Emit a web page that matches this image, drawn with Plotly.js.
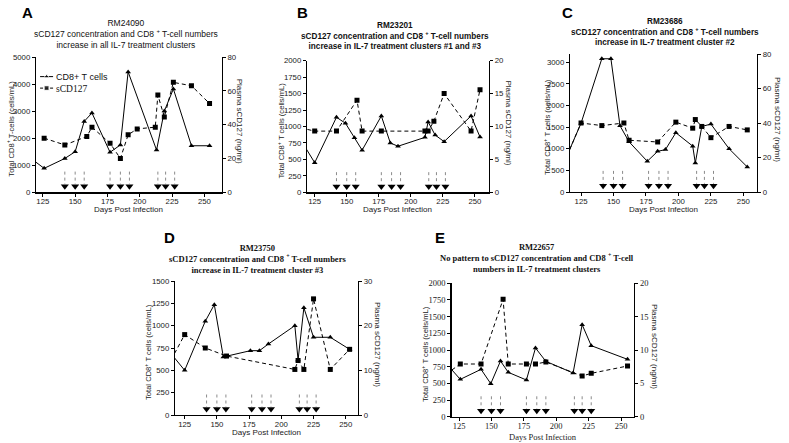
<!DOCTYPE html>
<html><head><meta charset="utf-8">
<script src="https://cdn.plot.ly/plotly-3.0.1.min.js"></script>
<style>html,body{margin:0;padding:0;background:#fff}#chart{width:789px;height:443px}</style>
</head><body><div id="chart"></div>
<script>
// ---------------- DATA ----------------
const xTickVals = [125, 150, 175, 200, 225, 250];
const arrowDays = [142, 150, 157, 177, 185, 192, 214, 220, 227];

// Panel A – RM24090
const aCD8Days = [115, 126, 142, 150, 157, 163, 177, 185, 191, 213, 219, 226, 240, 254];
const aCD8 = [1280, 885, 1250, 1500, 2620, 2930, 1480, 1750, 4450, 1560, 3000, 3820, 1720, 1720];
const aSDays = [126, 142, 159, 163, 177, 185, 191, 198, 212, 214, 219, 226, 240, 254];
const aS = [32, 28, 33, 38.5, 29, 20, 34, 37.5, 38.5, 57.5, 44.5, 65, 63, 52.5];

// Panel B – RM23201
const bCD8Days = [114, 125, 142, 149, 156, 162, 177, 184, 190, 211, 213.5, 219, 226, 247, 254];
const bCD8 = [800, 450, 1140, 1050, 830, 640, 1160, 750, 700, 835, 1070, 870, 770, 1160, 840];
const bSDays = [114, 125, 142, 158, 162, 177, 211, 213.5, 218, 226, 247, 254];
const bS = [9.8, 9.3, 9.3, 14, 9.3, 9.3, 9.3, 9.3, 10.8, 15, 9.3, 15.6];

// Panel C – RM23686
const cCD8Days = [112, 125, 141, 148, 155, 162, 176, 184, 190, 198, 211, 213, 218, 225, 239, 253];
const cCD8 = [690, 1590, 3080, 3080, 1530, 1160, 710, 940, 980, 1370, 1060, 670, 1515, 1570, 1000, 580];
const cSDays = [112, 125, 141, 158, 162, 184, 198, 211, 213, 218, 225, 239, 253];
const cS = [17, 40, 38.5, 40, 30, 29, 40.5, 37, 42, 38, 31.5, 38, 36];

// Panel D – RM23750
const dCD8Days = [112, 125, 141, 148, 155, 176, 183, 190, 210.5, 213, 217.5, 225, 238, 253];
const dCD8 = [730, 500, 1050, 1235, 650, 720, 720, 795, 1000, 615, 1200, 870, 870, 735];
const dSDays = [112, 125, 141, 157.5, 210.5, 213, 217.5, 225, 238, 253];
const dS = [11, 18, 15, 13.2, 10.2, 12.2, 10.2, 26, 10.2, 14.7];

// Panel E – RM22657
const eCD8Days = [115, 126, 142, 149.5, 157, 163, 177, 184, 192, 213, 220, 227, 255];
const eCD8 = [800, 560, 710, 495, 835, 665, 550, 1030, 830, 655, 1380, 1065, 860];
const eSDays = [115, 126, 142, 159, 163, 177, 184, 192, 220, 227, 255];
const eS = [6.4, 7.9, 7.9, 17.6, 7.9, 7.9, 7.9, 8.2, 6.1, 6.5, 7.6];

const seriesNames = ['CD8+ T cells', 'sCD127'];

// ---------------- LAYOUT / STYLE ----------------
const W = 789, H = 443;
const px = x => x / W, py = y => 1 - y / H;
const SANS = 'Liberation Sans, Arial, sans-serif';
const SERIF = 'Liberation Serif, Times New Roman, serif';

const panels = [
  {letter:'A', lx:27, ly:12, cd8x:aCD8Days, cd8:aCD8, sx:aSDays, s:aS,
   box:[36,221.7,57,192.3], xr:[119.7,263.4], yl:[0,5000], yld:1000, yr:[0,80], yrd:20,
   tickFont:SANS, titleFont:SANS, titleBold:false, titleSize:8.5, xtFont:SANS,
   title:['RM24090','sCD127 concentration and CD8 <sup>+</sup> T-cell numbers','increase in all IL-7 treatment clusters'],
   tx:126, ty:34, ytitle:'Total CD8<sup>+</sup> T-cells (cells/mL)', ytx:10, yrtx:239, xty:209.5},
  {letter:'B', lx:302, ly:12, cd8x:bCD8Days, cd8:bCD8, sx:bSDays, s:bS,
   box:[307,489,60.7,192.3], xr:[119,261], yl:[0,2000], yld:250, yr:[0,20], yrd:5,
   tickFont:SANS, titleFont:SANS, titleBold:true, titleSize:8.2, xtFont:SANS,
   title:['RM23201','sCD127 concentration and CD8 <sup>+</sup> T-cell numbers','increase in IL-7 treatment clusters #1 and #3'],
   tx:395, ty:36, ytitle:'Total CD8<sup>+</sup> T cells (cells/mL)', ytx:281, yrtx:508, xty:209.5},
  {letter:'C', lx:567, ly:12, cd8x:cCD8Days, cd8:cCD8, sx:cSDays, s:cS,
   box:[570,757,54,192], xr:[116.5,260.5], yl:[0,3190], yld:500, yr:[0,80], yrd:20,
   tickFont:SANS, titleFont:SANS, titleBold:true, titleSize:8.2, xtFont:SANS,
   title:['RM23686','sCD127 concentration and CD8 <sup>+</sup> T-cell numbers','increase in IL-7 treatment cluster #2'],
   tx:665, ty:32, ytitle:'Total CD8<sup>+</sup> T cells (cells/mL)', ytx:547, yrtx:778, xty:209.5},
  {letter:'D', lx:169, ly:237, cd8x:dCD8Days, cd8:dCD8, sx:dSDays, s:dS,
   box:[175,358,281,415], xr:[117.5,259.5], yl:[0,1500], yld:250, yr:[0,30], yrd:10,
   tickFont:SANS, titleFont:SERIF, titleBold:true, titleSize:8.5, xtFont:SANS,
   title:['RM23750','sCD127 concentration and CD8 <sup>+</sup> T-cell numbers','increase in IL-7 treatment cluster #3'],
   tx:257, ty:259, ytitle:'Total CD8<sup>+</sup> T cells (cells/mL)', ytx:148, yrtx:378, xty:432},
  {letter:'E', lx:440, ly:237, cd8x:eCD8Days, cd8:eCD8, sx:eSDays, s:eS,
   box:[451.5,634,283.3,416.7], xr:[119.2,260], yl:[0,2000], yld:250, yr:[0,20], yrd:5,
   tickFont:SERIF, titleFont:SERIF, titleBold:true, titleSize:8.5, xtFont:SERIF,
   title:['RM22657','No pattern to sCD127 concentration and CD8 <sup>+</sup> T-cell','numbers in IL-7 treatment clusters'],
   tx:537, ty:258, ytitle:'Total CD8<sup>+</sup> T cells (cells/mL)', ytx:425, yrtx:655, xty:436.5}
];

const traces = [];
const layout = {
  width: W, height: H, margin: {l:0, r:0, t:0, b:0},
  paper_bgcolor: '#fff', plot_bgcolor: 'rgba(0,0,0,0)',
  showlegend: false,
  annotations: [], font:{family:SANS}
};

const axCommon = {showline:true, linecolor:'#000', linewidth:1.2, ticks:'outside', ticklen:3,
  tickwidth:1, tickcolor:'#000', showgrid:false, zeroline:false, fixedrange:true};

panels.forEach((p, i) => {
  const n = i + 1;
  const xs = n === 1 ? '' : String(n);
  const xid = 'x' + xs, yl = 'y' + xs, yr = 'y' + (n + 5), yh = 'y' + (n + 10);
  const tf = {family:p.tickFont, size:p.tickFont === SERIF ? 8.5 : 7.8, color:'#222'};
  layout['xaxis' + xs] = Object.assign({}, axCommon, {domain:[px(p.box[0]), px(p.box[1])], range:p.xr,
    anchor:yl, tickvals:xTickVals, ticktext:xTickVals.map(String), tickfont:tf, ticklabelstandoff:-2});
  layout['yaxis' + xs] = Object.assign({}, axCommon, {domain:[py(p.box[3]), py(p.box[2])], range:p.yl,
    anchor:xid, tick0:0, dtick:p.yld, tickfont:tf});
  layout['yaxis' + (n + 5)] = Object.assign({}, axCommon, {overlaying:yl, side:'right', anchor:xid,
    range:p.yr, tick0:0, dtick:p.yrd, tickfont:tf});
  layout['yaxis' + (n + 10)] = {overlaying:yl, anchor:xid, range:[0,1], visible:false, fixedrange:true};

  // treatment arrows: dotted stems + filled heads
  const sx = [], sy = [];
  arrowDays.forEach(d => { sx.push(d, d, null); sy.push(0.153, 0.06, null); });
  traces.push({x:sx, y:sy, xaxis:xid, yaxis:yh, mode:'lines', showlegend:false, hoverinfo:'skip',
    line:{color:'#8a8a8a', width:1, dash:'dot'}});
  traces.push({x:arrowDays, y:arrowDays.map(() => 0.045), xaxis:xid, yaxis:yh, mode:'markers',
    showlegend:false, hoverinfo:'skip', marker:{symbol:'triangle-down', size:7, color:'#000'}});

  traces.push({x:p.cd8x, y:p.cd8, xaxis:xid, yaxis:yl, mode:'lines+markers', name:seriesNames[0],
    showlegend:false, line:{color:'#000', width:1},
    marker:{symbol:'triangle-up', size:5, color:'#000'}});
  traces.push({x:p.sx, y:p.s, xaxis:xid, yaxis:yr, mode:'lines+markers', name:seriesNames[1],
    showlegend:false, line:{color:'#000', width:1, dash:'4px,3px'},
    marker:{symbol:'square', size:5, color:'#000'}});

  const A = layout.annotations;
  A.push({xref:'paper', yref:'paper', x:px(p.lx), y:py(p.ly), xanchor:'center', yanchor:'middle',
    text:'<b>' + p.letter + '</b>', showarrow:false, font:{family:SANS, size:15, color:'#000'}});
  const tt = p.title.map(t => p.titleBold ? '<b>' + t + '</b>' : t).join('<br>');
  A.push({xref:'paper', yref:'paper', x:px(p.tx), y:py(p.ty), xanchor:'center', yanchor:'middle',
    text:tt, showarrow:false, align:'center', font:{family:p.titleFont, size:p.titleSize, color:'#111'}});
  const cy = (p.box[2] + p.box[3]) / 2;
  A.push({xref:'paper', yref:'paper', x:px(p.ytx), y:py(cy + 4), xanchor:'center', yanchor:'middle',
    text:p.ytitle, textangle:-90, showarrow:false, font:{family:SANS, size:7.6, color:'#222'}});
  A.push({xref:'paper', yref:'paper', x:px(p.yrtx), y:py(cy - 4), xanchor:'center', yanchor:'middle',
    text:'Plasma sCD127 (ng/ml)', textangle:90, showarrow:false, font:{family:SANS, size:8, color:'#222'}});
  A.push({xref:'paper', yref:'paper', x:px((p.box[0] + p.box[1]) / 2), y:py(p.xty), xanchor:'center', yanchor:'middle',
    text:'Days Post Infection', showarrow:false, font:{family:p.xtFont, size:p.xtFont === SERIF ? 8.5 : 8, color:'#222'}});
});

// ---- legend of panel A (drawn in a small overlay frame over panel A) ----
const legBox = panels[0].box;
layout.xaxis16 = {domain:[px(legBox[0]), px(legBox[1])], range:[0,1], visible:false, fixedrange:true, anchor:'y16'};
layout.yaxis16 = {domain:[py(legBox[3]), py(legBox[2])], range:[0,1], visible:false, fixedrange:true, anchor:'x16'};
const legRows = [0.855, 0.77];
traces.push({x:[0.022, 0.057, 0.092], y:[legRows[0], legRows[0], legRows[0]], xaxis:'x16', yaxis:'y16',
  mode:'lines+markers', showlegend:false, hoverinfo:'skip', line:{color:'#000', width:1},
  marker:{symbol:'triangle-up', size:[0,5,0], color:'#000'}});
traces.push({x:[0.022, 0.057, 0.092], y:[legRows[1], legRows[1], legRows[1]], xaxis:'x16', yaxis:'y16',
  mode:'lines+markers', showlegend:false, hoverinfo:'skip', line:{color:'#000', width:1, dash:'3px,2px'},
  marker:{symbol:'square', size:[0,5,0], color:'#000'}});
layout.annotations.push({xref:'paper', yref:'paper', x:px(55), y:py(76.5), xanchor:'left', yanchor:'middle',
  text:seriesNames[0], showarrow:false, borderpad:0, font:{family:SANS, size:9, color:'#111'}});
layout.annotations.push({xref:'paper', yref:'paper', x:px(55), y:py(88.5), xanchor:'left', yanchor:'middle',
  text:seriesNames[1], showarrow:false, borderpad:0, font:{family:SERIF, size:9.5, color:'#111'}});

Plotly.newPlot('chart', traces, layout, {staticPlot:true, displayModeBar:false});
</script></body></html>
